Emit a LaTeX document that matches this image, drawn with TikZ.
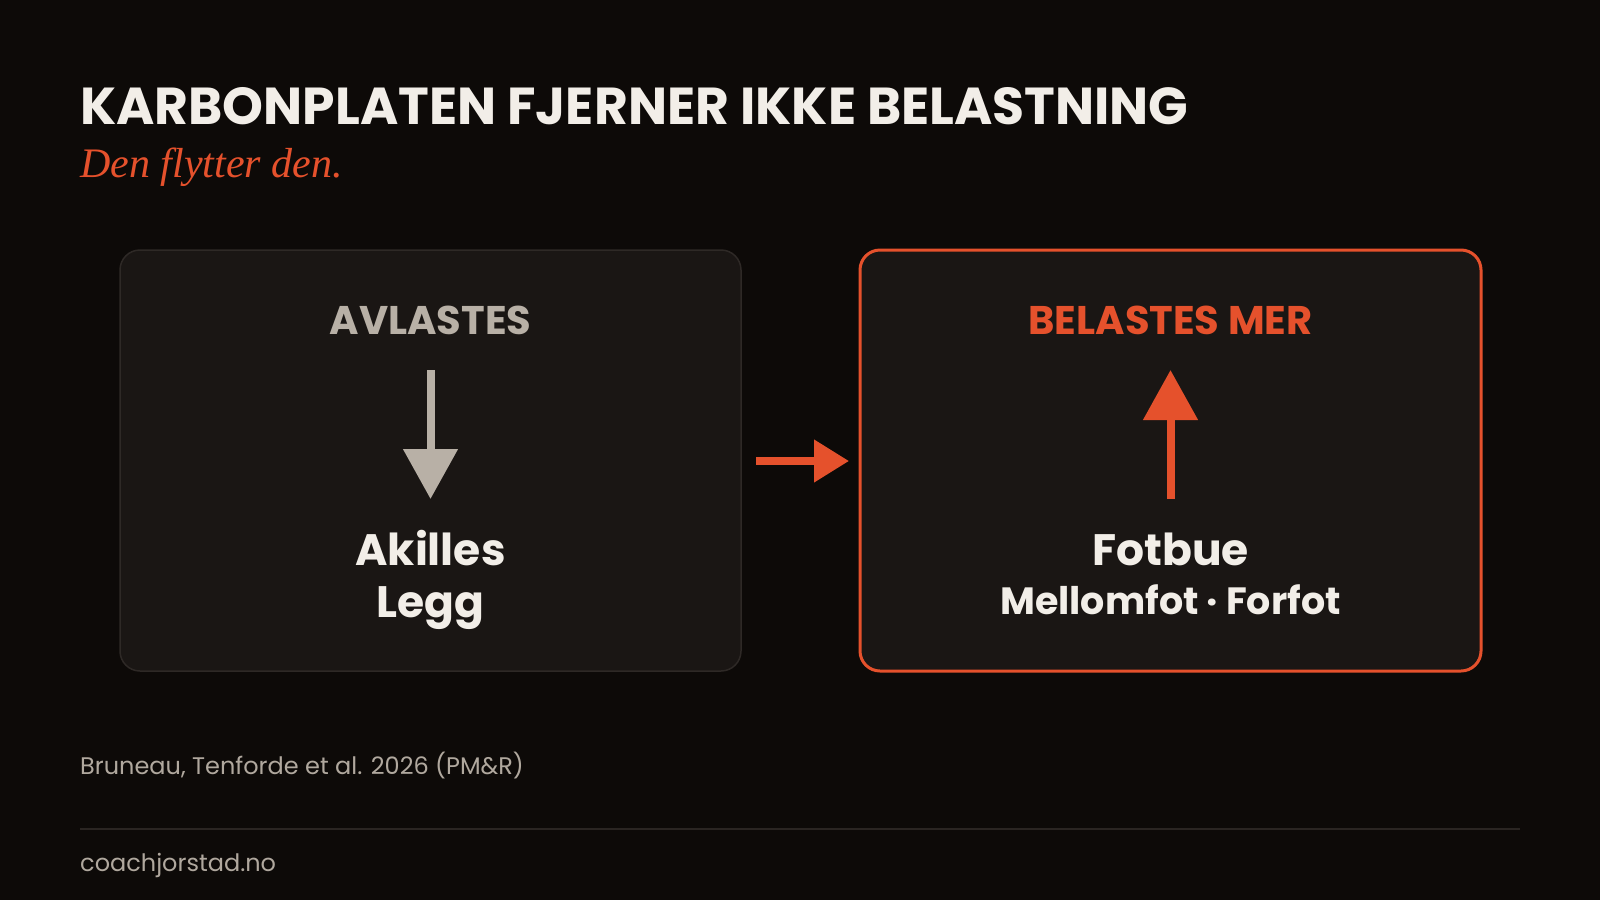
\documentclass[tikz,border=0pt]{standalone}
\usepackage{fontspec}
\setmainfont{Poppins}
\newfontfamily\serifit{Liberation Serif}
\usetikzlibrary{arrows.meta}
\definecolor{bg}{HTML}{0D0A08}
\definecolor{boxfill}{HTML}{1A1614}
\definecolor{boxline}{HTML}{2E2926}
\definecolor{accent}{HTML}{E5512C}
\definecolor{muted}{HTML}{B8B0A6}
\definecolor{cream}{HTML}{F2EEE8}
\definecolor{greytext}{HTML}{B0A89E}
\definecolor{rule}{HTML}{2A2522}
\tikzset{
  panel/.style={rounded corners=20pt, fill=boxfill, minimum width=621pt, minimum height=421pt, inner sep=0pt},
  lbl/.style={anchor=base, inner sep=0pt, font=\fontsize{40}{46}\selectfont\bfseries},
  big/.style={anchor=base, inner sep=0pt, text=cream, font=\fontsize{44}{50}\selectfont\bfseries},
  small/.style={anchor=base west, inner sep=0pt, font=\fontsize{24}{28}\selectfont},
  bigarrow/.style={line width=8pt, -{Triangle[length=50pt,width=53pt]}},
}
\begin{document}
\begin{tikzpicture}[x=1pt,y=-1pt]
\fill[bg] (0,0) rectangle (1600,900);
\useasboundingbox (0,0) rectangle (1600,900);
% title
\node[anchor=base west, inner sep=0pt, text=cream, font=\fontsize{52}{58}\selectfont\bfseries] (title) at (80,124) {KARBONPLATEN FJERNER IKKE BELASTNING};
\node[anchor=base west, inner sep=0pt, text=accent, font=\fontsize{42}{46}\serifit\itshape] (sub) at (80,177) {Den flytter den.};
% panels
\node[panel, draw=boxline, line width=1.5pt] (b1) at (430.5,460.5) {};
\node[panel, draw=accent, line width=3pt] (b2) at (1170.5,460.5) {};
% left panel content
\node[lbl, text=muted] (l1) at (430.5,334) {AVLASTES};
\coordinate (d1) at (430.5,370);
\coordinate (d2) at (430.5,499);
\draw[bigarrow, muted] (d1) -- (d2);
\node[big] (ak) at (430.5,565) {Akilles};
\node[big] (lg) at (430.5,617) {Legg};
% right panel content
\node[lbl, text=accent] (l2) at (1170.5,334) {BELASTES MER};
\coordinate (u1) at (1170.5,499);
\coordinate (u2) at (1170.5,370);
\draw[bigarrow, accent] (u1) -- (u2);
\node[big] (fb) at (1170.5,565) {Fotbue};
\node[big, font=\fontsize{38}{44}\selectfont\bfseries] (mf) at (1170.5,614) {Mellomfot · Forfot};
% middle arrow
\coordinate (m1) at (756,461);
\coordinate (m2) at (849,461);
\draw[line width=7.5pt, accent, -{Triangle[length=35pt,width=41pt]}] (m1) -- (m2);
% footer
\node[small, text=greytext] (src) at (80,774) {Bruneau, Tenforde et al. 2026 (PM\&R)};
\coordinate (r1) at (80,829);
\coordinate (r2) at (1520,829);
\draw[rule, line width=2pt] (r1) -- (r2);
\node[small, text=greytext] (site) at (80,871) {coachjorstad.no};
\end{tikzpicture}
\end{document}
